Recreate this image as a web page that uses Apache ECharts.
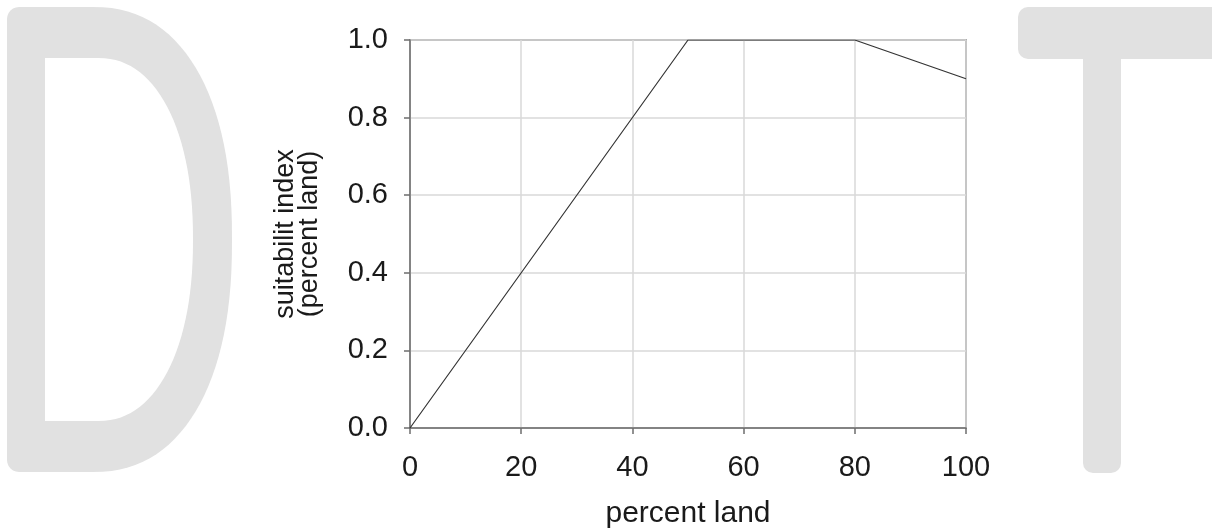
<!DOCTYPE html>
<html>
<head>
<meta charset="utf-8">
<script src="https://cdn.jsdelivr.net/npm/echarts@6/dist/echarts.min.js"></script>
<style>
  html, body { margin: 0; padding: 0; background: #fff; }
  #chart { width: 1212px; height: 531px; }
</style>
</head>
<body>
<div id="chart"></div>
<script>
// ======================
// DATA
// ======================
const percentLand = [0, 50, 80, 100];
const suitability = [0, 1.0, 1.0, 0.9];
const xTicks = [0, 20, 40, 60, 80, 100];
const yTicks = [0.0, 0.2, 0.4, 0.6, 0.8, 1.0];

const FONT = 'Liberation Sans, Arial, sans-serif';
const TEXT = '#1a1a1a';
const WATERMARK = '#e1e1e1';

const chart = echarts.init(document.getElementById('chart'), null, { renderer: 'canvas' });

// outline of the watermark "D" bowl: flat left side, superellipse on the right
function dShape(left, top, bottom, cx, rx, corner, n) {
    const pts = [];
    const cy = (top + bottom) / 2;
    const ry = (bottom - top) / 2;
    const e = 2 / n;
    for (let i = 0; i <= 60; i++) {
        const a = -Math.PI / 2 + Math.PI * i / 60;
        const c = Math.cos(a), s = Math.sin(a);
        pts.push([
            cx + rx * Math.sign(c) * Math.pow(Math.abs(c), e),
            cy + ry * Math.sign(s) * Math.pow(Math.abs(s), e)
        ]);
    }
    for (let i = 0; i <= 6; i++) {
        const a = Math.PI / 2 + (Math.PI / 2) * i / 6;
        pts.push([left + corner + corner * Math.cos(a), bottom - corner + corner * Math.sin(a)]);
    }
    for (let i = 0; i <= 6; i++) {
        const a = Math.PI + (Math.PI / 2) * i / 6;
        pts.push([left + corner + corner * Math.cos(a), top + corner + corner * Math.sin(a)]);
    }
    return pts;
}

const watermark = [
    {
        type: 'polygon', z: -10, silent: true,
        shape: { points: dShape(7, 7, 472, 92, 140, 12, 2.3) },
        style: { fill: WATERMARK }
    },
    {
        type: 'polygon', z: -9, silent: true,
        shape: { points: dShape(45, 58, 421, 98, 95, 0.01, 2.2) },
        style: { fill: '#fff' }
    },
    {
        type: 'rect', z: -10, silent: true,
        shape: { x: 1018, y: 7, width: 210, height: 52, r: 10 },
        style: { fill: WATERMARK }
    },
    {
        type: 'rect', z: -10, silent: true,
        shape: { x: 1083, y: 40, width: 38, height: 433, r: [0, 0, 10, 10] },
        style: { fill: WATERMARK }
    }
];

const option = {
    backgroundColor: '#fff',
    animation: false,
    graphic: watermark,
    grid: {
        left: 410,
        right: 246,
        top: 40,
        bottom: 103,
        outerBoundsMode: 'none',
        containLabel: false,
        show: true,
        borderColor: '#6e6e6e',
        borderWidth: 1.5,
        backgroundColor: 'transparent',
    },
    xAxis: {
        type: 'value',
        min: xTicks[0],
        max: xTicks[xTicks.length - 1],
        interval: 20,
        name: 'percent land',
        nameLocation: 'middle',
        nameGap: 71,
        nameTextStyle: { color: TEXT, fontSize: 30, fontFamily: FONT },
        axisLine: { show: true, lineStyle: { color: '#6e6e6e', width: 1.5 } },
        axisTick: { show: true, length: 6, lineStyle: { color: '#6e6e6e', width: 1.5 } },
        axisLabel: {
            color: TEXT, fontSize: 29, fontFamily: FONT, margin: 25,
            formatter: v => xTicks.includes(v) ? String(v) : ''
        },
        splitLine: { show: true, lineStyle: { color: '#d9d9d9', width: 1.5 } },
    },
    yAxis: {
        type: 'value',
        min: yTicks[0],
        max: yTicks[yTicks.length - 1],
        interval: 0.2,
        name: 'suitabilit index\n(percent land)',
        nameLocation: 'middle',
        nameRotate: 90,
        nameGap: 88,
        nameTextStyle: { color: TEXT, fontSize: 27, fontFamily: FONT, lineHeight: 24 },
        axisLine: { show: true, lineStyle: { color: '#6e6e6e', width: 1.5 } },
        axisTick: { show: true, length: 6, lineStyle: { color: '#6e6e6e', width: 1.5 } },
        axisLabel: {
            color: TEXT, fontSize: 29, fontFamily: FONT, margin: 22,
            formatter: v => v.toFixed(1)
        },
        splitLine: { show: true, lineStyle: { color: '#d9d9d9', width: 1.5 } },
    },
    series: [
        {
            type: 'line',
            data: percentLand.map((x, i) => [x, suitability[i]]),
            symbol: 'none',
            lineStyle: { color: '#333', width: 1.2 },
            z: 5,
        },
    ],
};

chart.setOption(option);
</script>
</body>
</html>
